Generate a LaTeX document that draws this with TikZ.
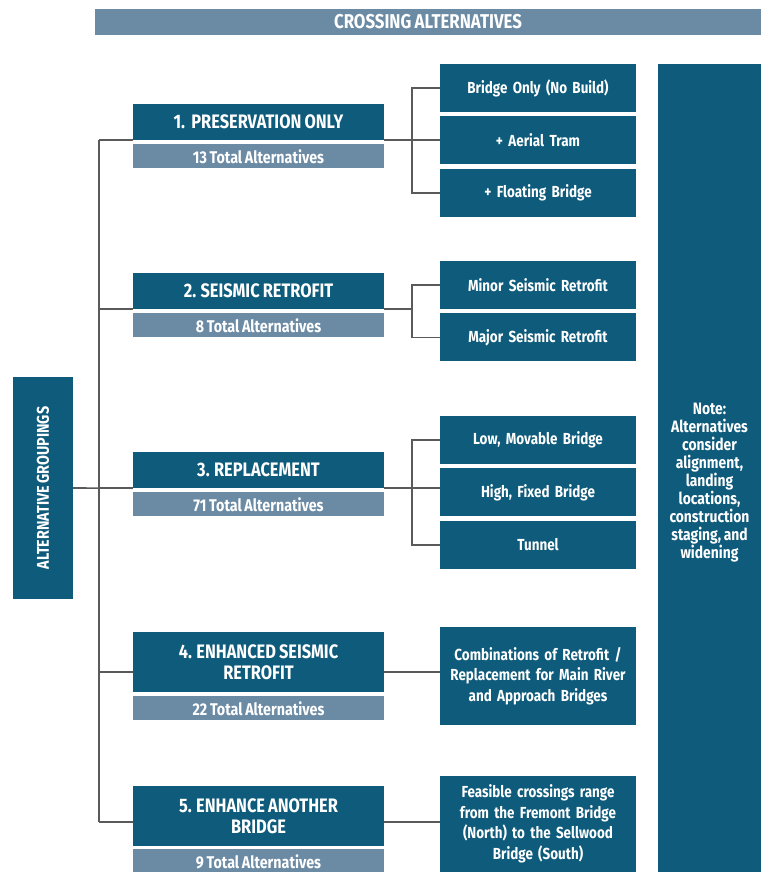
\documentclass[tikz,border=0pt]{standalone}
\usepackage{fontspec}
\setmainfont{Fira Sans}[FakeStretch=0.84,WordSpace=0.8]
\usetikzlibrary{positioning}

\definecolor{deepteal}{HTML}{0E5B7B}
\definecolor{greyblue}{HTML}{6B8AA4}
\definecolor{linegrey}{HTML}{5A5A5A}

\begin{document}
\begin{tikzpicture}[
	x=1pt,y=-1pt,
	box/.style={
		fill=deepteal,
		text=white,
		inner sep=2pt,
		align=center,
	},
	grp/.style={
		box,
		minimum width=251pt,
		minimum height=36pt,
		font=\bfseries\fontsize{19.5}{21}\selectfont
	},
	tot/.style={
		fill=greyblue,
		text=white,
		inner sep=0pt,
		minimum width=251pt,
		minimum height=24pt,
		font=\bfseries\fontsize{17}{19}\selectfont
	},
	opt/.style={
		box,
		minimum width=196pt,
		minimum height=48pt,
		text width=190pt,
		font=\bfseries\fontsize{16}{20.5}\selectfont
	},
	link/.style={
		draw=linegrey,
		line width=1.6pt
	}
	]
	\useasboundingbox (0,0) rectangle (761,872);

	\node[fill=greyblue, text=white, minimum width=666pt, minimum height=26pt,
		font=\bfseries\fontsize{20}{22}\selectfont] (title) at (428,22) {CROSSING ALTERNATIVES};
	\node[box, rotate=90, minimum width=222pt, minimum height=60pt,
		font=\bfseries\fontsize{17}{19}\selectfont] (groups) at (43,488) {ALTERNATIVE GROUPINGS};

	% groupings
	\node[grp] (grp1) at (258.5,122) {1.\ \ PRESERVATION ONLY};
	\node[tot, below=4pt of grp1] (tot1) {13 Total Alternatives};
	\node[grp] (grp2) at (258.5,291) {2. SEISMIC RETROFIT};
	\node[tot, below=4pt of grp2] (tot2) {8 Total Alternatives};
	\node[grp] (grp3) at (258.5,470) {3. REPLACEMENT};
	\node[tot, below=4pt of grp3] (tot3) {71 Total Alternatives};
	\node[grp, minimum height=60pt] (grp4) at (258.5,662) {4. ENHANCED SEISMIC\\RETROFIT};
	\node[tot, below=4pt of grp4] (tot4) {22 Total Alternatives};
	\node[grp, minimum height=60pt] (grp5) at (258.5,816) {5. ENHANCE ANOTHER\\BRIDGE};
	\node[tot, below=3pt of grp5] (tot5) {9 Total Alternatives};

	% options
	\node[opt] (opt11) at (538,88) {Bridge Only (No Build)};
	\node[opt, below=4pt of opt11] (opt12) {+ Aerial Tram};
	\node[opt, below=4pt of opt12] (opt13) {+ Floating Bridge};
	\node[opt] (opt21) at (538,285) {Minor Seismic Retrofit};
	\node[opt, below=4pt of opt21] (opt22) {Major Seismic Retrofit};
	\node[opt] (opt31) at (538,440) {Low, Movable Bridge};
	\node[opt, below=4pt of opt31] (opt32) {High, Fixed Bridge};
	\node[opt, below=4pt of opt32] (opt33) {Tunnel};
	\node[opt, minimum height=98pt] (opt4) at (538,676) {Combinations of Retrofit /\\Replacement for Main River\\and Approach Bridges};
	\node[opt, minimum height=96pt] (opt5) at (538,824) {Feasible crossings range\\from the Fremont Bridge\\(North) to the Sellwood\\Bridge (South)};

	% note column
	\node[box, minimum width=103pt, minimum height=808pt] (note) at (709.5,468) {};
	\node[text=white, align=center, inner sep=0pt,
		font=\bfseries\fontsize{16.5}{18}\selectfont] (notetxt) at (709.5,483)
		{Note:\\Alternatives\\consider\\alignment,\\landing\\locations,\\construction\\staging, and\\widening};

	% connectors
	\coordinate (trunk) at (99,0);
	\coordinate (fork) at (412,0);
	\coordinate (j1) at (grp1.south west);
	\coordinate (j2) at (grp2.south west);
	\coordinate (j3) at (grp3.south west);
	\coordinate (j4) at ([yshift=20pt]grp4.south west);
	\coordinate (j5) at ([yshift=24pt]grp5.south west);
	\coordinate (k1) at (grp1.south east);
	\coordinate (k2) at (grp2.south east);
	\coordinate (k3) at (grp3.south east);
	\coordinate (k4) at ([yshift=20pt]grp4.south east);
	\coordinate (k5) at ([yshift=24pt]grp5.south east);

	\draw[link] (groups.south) -- (j3);
	\draw[link] (trunk |- j1) -- (trunk |- j5);
	\foreach \i in {1,...,5}
	\draw[link] (trunk |- j\i) -- (j\i);

	\draw[link] (k1) -- (k1 -| opt12.west);
	\draw[link] (opt11.west) -| (fork |- opt13.west) -- (opt13.west);
	\draw[link] (k2) -- (fork |- k2);
	\draw[link] (opt21.west) -| (fork |- opt22.west) -- (opt22.west);
	\draw[link] (k3) -- (k3 -| opt32.west);
	\draw[link] (opt31.west) -| (fork |- opt33.west) -- (opt33.west);
	\foreach \i in {4,5}
	\draw[link] (k\i) -- (k\i -| opt\i.west);
\end{tikzpicture}
\end{document}
